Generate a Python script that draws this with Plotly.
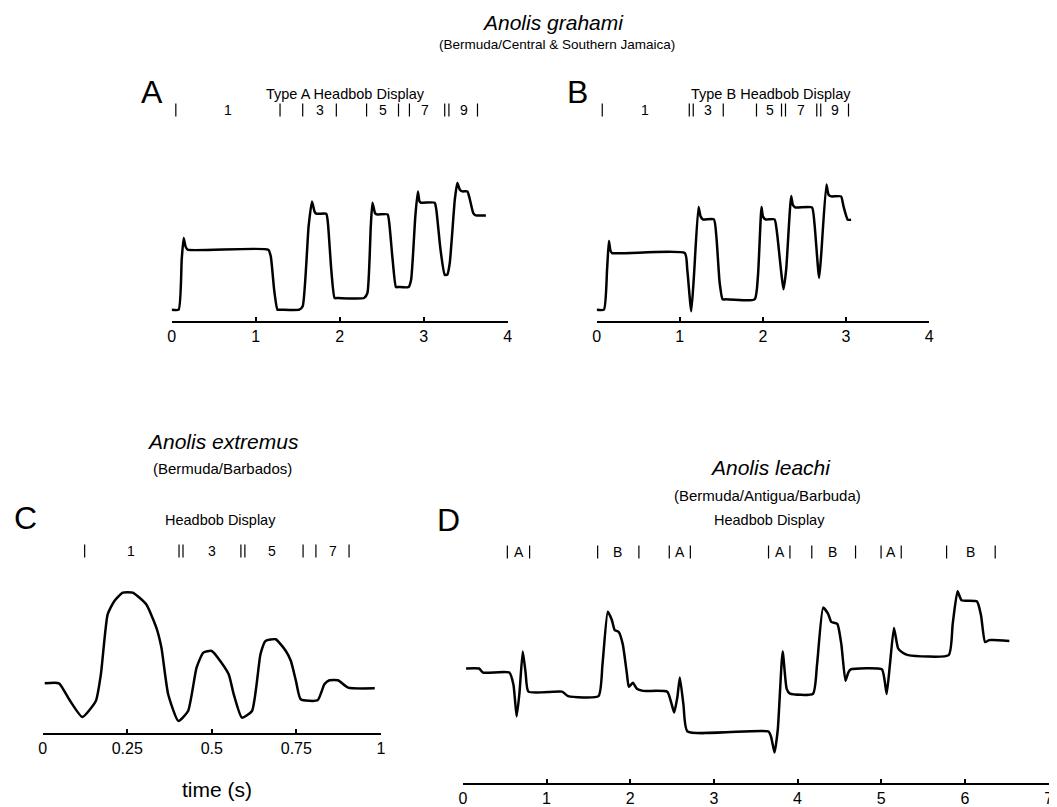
import plotly.graph_objects as go

W, H = 1057, 807

# ---------------- data ----------------
# Panel A: Anolis grahami, Type A headbob (time s, head position arbitrary units)
a_t = [0.0, 0.083, 0.12, 0.143, 0.165, 0.19, 1.15, 1.18, 1.22, 1.26, 1.30, 1.52, 1.56, 1.63, 1.67, 1.70, 1.72,
       1.84, 1.86, 1.90, 1.94, 1.98, 2.29, 2.33, 2.37, 2.39, 2.42, 2.44, 2.57, 2.59, 2.63, 2.67, 2.70, 2.82, 2.85,
       2.90, 2.93, 2.95, 2.97, 3.13, 3.15, 3.20, 3.25, 3.28, 3.31, 3.37, 3.40, 3.43, 3.46, 3.52, 3.55, 3.59, 3.62,
       3.74]
a_y = [0.0, 0.0, 15.0, 21.5, 19.0, 18.0, 18.0, 16.0, 6.0, 0.0, 0.0, 0.0, 1.0, 25.0, 32.5, 29.5, 28.8,
       28.8, 26.0, 12.0, 3.5, 3.5, 3.5, 5.0, 25.0, 32.1, 29.0, 28.6, 28.6, 26.0, 15.0, 6.8, 6.8, 6.8, 9.0,
       28.0, 35.5, 32.5, 32.1, 32.1, 30.0, 18.0, 10.5, 10.5, 14.0, 33.0, 38.0, 36.0, 35.5, 35.5, 33.0, 29.0, 28.3,
       28.3]

# Panel B: Anolis grahami, Type B headbob
b_t = [0.0, 0.087, 0.125, 0.147, 0.165, 0.186, 1.06, 1.09, 1.138, 1.17, 1.225, 1.25, 1.277, 1.41, 1.44, 1.48,
       1.515, 1.55, 1.90, 1.94, 1.983, 2.00, 2.03, 2.14, 2.17, 2.248, 2.28, 2.34, 2.36, 2.387, 2.59, 2.62, 2.676,
       2.70, 2.764, 2.79, 2.823, 2.94, 2.97, 3.021, 3.061]
b_y = [0.0, 0.0, 12.0, 20.6, 17.8, 17.0, 17.0, 12.0, -0.5, 10.0, 30.8, 28.0, 27.1, 27.1, 22.0, 8.0,
       3.1, 3.1, 3.1, 10.0, 30.8, 28.0, 27.1, 27.1, 23.0, 6.1, 12.0, 34.1, 31.5, 30.7, 30.7, 26.0, 9.5,
       16.0, 37.6, 34.5, 34.0, 34.0, 31.0, 27.0, 27.0]

# Panel C: Anolis extremus headbob
c_t = [0.006, 0.048, 0.078, 0.117, 0.157, 0.172, 0.192, 0.212, 0.237, 0.266, 0.306, 0.336, 0.351, 0.371, 0.401,
       0.430, 0.455, 0.475, 0.5, 0.525, 0.55, 0.565, 0.589, 0.619, 0.644, 0.659, 0.689, 0.719, 0.734, 0.749,
       0.763, 0.813, 0.833, 0.848, 0.873, 0.903, 0.982]
c_y = [12.3, 12.3, 7.5, 2.2, 7.0, 15.0, 33.0, 37.0, 39.5, 39.5, 36.0, 29.0, 23.0, 9.0, 1.0,
       4.0, 17.0, 21.5, 22.0, 19.0, 15.0, 9.0, 2.0, 4.0, 21.0, 25.0, 25.5, 22.0, 19.0, 13.0,
       7.5, 7.2, 12.0, 13.2, 13.2, 11.0, 10.8]

# Panel D: Anolis leachi headbob
d_t = [0.039, 0.194, 0.242, 0.556, 0.605, 0.643, 0.677, 0.716, 0.75, 0.784, 1.185, 1.258, 1.621, 1.669, 1.732,
       1.78, 1.814, 1.863, 1.911, 1.959, 1.984, 2.032, 2.08, 2.153, 2.443, 2.492, 2.525, 2.564, 2.593, 2.637,
       2.685, 3.653, 3.686, 3.725, 3.764, 3.822, 3.87, 3.909, 4.185, 4.233, 4.306, 4.364, 4.402, 4.475, 4.523,
       4.572, 4.606, 4.635, 5.007, 5.041, 5.065, 5.104, 5.152, 5.201, 5.249, 5.322, 5.806, 5.854, 5.912, 5.96,
       6.144, 6.193, 6.241, 6.289, 6.338, 6.531]
d_y = [21.0, 21.0, 20.0, 20.0, 17.0, 9.2, 15.0, 25.2, 20.0, 15.3, 15.3, 14.2, 14.2, 22.0, 35.0,
       33.0, 30.5, 30.0, 27.0, 20.0, 16.5, 17.5, 16.0, 15.5, 15.3, 12.5, 10.2, 14.0, 18.8, 12.0,
       5.5, 5.5, 4.0, 0.3, 6.0, 25.2, 16.0, 14.8, 14.8, 22.0, 36.0, 34.5, 32.5, 32.0, 27.0,
       18.0, 20.0, 20.8, 20.8, 18.0, 14.7, 22.0, 31.0, 26.0, 25.0, 24.3, 24.3, 32.0, 40.0, 37.8,
       37.5, 34.0, 27.5, 28.0, 28.0, 27.8]

# Segment marker rows above each trace (time position, symbol)
a_mark_t = [0.05, 0.67, 1.29, 1.56, 1.76, 1.96, 2.32, 2.52, 2.70, 2.83, 3.02, 3.25, 3.30, 3.48, 3.64]
a_mark_s = ["|", "1", "|", "|", "3", "|", "|", "5", "|", "|", "7", "|", "|", "9", "|"]
b_mark_t = [0.067, 0.583, 1.138, 1.336, 1.523, 1.923, 2.09, 2.248, 2.458, 2.672, 2.87, 3.03]
b_mark_s = ["|", "1", "||", "3", "|", "|", "5", "||", "7", "||", "9", "|"]
c_mark_t = [0.124, 0.261, 0.409, 0.5, 0.592, 0.677, 0.77, 0.808, 0.858, 0.906]
c_mark_s = ["|", "1", "||", "3", "||", "5", "|", "|", "7", "|"]
d_mark_t = [0.532, 0.668, 0.798, 1.611, 1.853, 2.104, 2.467, 2.598, 2.719, 3.653, 3.788, 3.909, 4.17, 4.417,
            4.693, 4.998, 5.118, 5.239, 5.781, 6.072, 6.362]
d_mark_s = ["|", "A", "|", "|", "B", "|", "|", "A", "|", "|", "A", "|", "|", "B", "|", "|", "A", "|", "|", "B", "|"]

a_ticks = [0, 1, 2, 3, 4]
c_ticks = [0, 0.25, 0.5, 0.75, 1]
c_tick_text = ["0", "0.25", "0.5", "0.75", "1"]
d_ticks = [0, 1, 2, 3, 4, 5, 6, 7]

# ---------------- figure ----------------
FONT = "Liberation Sans, Arial, sans-serif"
fig = go.Figure()

def py(px):
    """pixel row (from top) -> paper fraction"""
    return 1 - px / H

panels = [
    # axis suffix, t, y, xrange, ticks, ticktext, xdomain px, ydomain px (top,bottom), yrange
    ("", a_t, a_y, [0, 4], a_ticks, None, (161, 500), (168.4, 313), [-3.4, 40]),
    ("2", b_t, b_y, [0, 4], a_ticks, None, (589.7, 925), (168.4, 313), [-3.4, 40]),
    ("3", c_t, c_y, [0, 1], c_ticks, c_tick_text, (31, 372), (579.6, 725), [-2.61, 41]),
    ("4", d_t, d_y, [0, 7], d_ticks, None, (454.7, 1045.5), (579.3, 775), [-7.19, 41]),
]

layout_axes = {}
for name, t, y, xr, tv, tt, xd, yd, yr in panels:
    fig.add_trace(go.Scatter(x=t, y=y, mode="lines", xaxis="x" + name, yaxis="y" + name,
                             line=dict(color="black", width=2.5, shape="spline", smoothing=0.5),
                             showlegend=False, hoverinfo="skip"))
    layout_axes["xaxis" + name] = dict(
        domain=[xd[0] / W, xd[1] / W], range=xr, anchor="y" + name,
        showline=True, linecolor="black", linewidth=2, showgrid=False, zeroline=False,
        ticks="inside", ticklen=4, tickwidth=2, tickcolor="black",
        tickvals=tv, ticktext=tt if tt else [str(v) for v in tv],
        tickfont=dict(family=FONT, size=16, color="black"), fixedrange=True)
    layout_axes["yaxis" + name] = dict(
        domain=[py(yd[1]), py(yd[0])], range=yr, anchor="x" + name,
        visible=False, showgrid=False, zeroline=False, fixedrange=True)

fig.update_layout(**layout_axes)

ann = []
def text(x, y, s, size, italic=False, xref="paper", xanchor="center"):
    ann.append(dict(x=x, y=y, xref=xref, yref="paper", text=s, showarrow=False,
                    xanchor=xanchor, yanchor="middle",
                    font=dict(family=FONT, size=size, color="black",
                              style="italic" if italic else "normal")))

# headers
text(546 / W, py(14), "Anolis grahami", 21, italic=True)
text(550 / W, py(37), "(Bermuda/Central &amp; Southern Jamaica)", 13.5)
text(213 / W, py(433), "Anolis extremus", 21, italic=True)
text(212 / W, py(460), "(Bermuda/Barbados)", 15)
text(765 / W, py(459), "Anolis leachi", 21, italic=True)
text(762 / W, py(487), "(Bermuda/Antigua/Barbuda)", 15)

# panel letters
text(141 / W, py(84), "A", 32)
text(570 / W, py(84), "B", 32)
text(14 / W, py(510), "C", 32)
text(440 / W, py(512), "D", 32)

# panel titles
text(336 / W, py(86), "Type A Headbob Display", 14.5)
text(766 / W, py(86), "Type B Headbob Display", 14.5)
text(210 / W, py(512), "Headbob Display", 14.5)
text(764 / W, py(512), "Headbob Display", 14.5)

# x-axis title for C
text(207 / W, py(781), "time (s)", 21)

# marker rows: numbers/letters as text, separator bars as thin line shapes
shapes = []
rows = [("x", a_mark_t, a_mark_s, 102, 4 / (500 - 161)),
        ("x2", b_mark_t, b_mark_s, 102, 4 / (925 - 589.7)),
        ("x3", c_mark_t, c_mark_s, 543, 1 / (372 - 31)),
        ("x4", d_mark_t, d_mark_s, 544, 7 / (1045.5 - 454.7))]
for xa, ts, ss, ypx, unit_per_px in rows:
    for tv, sv in zip(ts, ss):
        if sv == "|":
            offs = [0.0]
        elif sv == "||":
            offs = [-2.0, 2.0]
        else:
            text(tv, py(ypx), sv, 14, xref=xa)
            continue
        for o in offs:
            xv = tv + o * unit_per_px
            shapes.append(dict(type="line", xref=xa, yref="paper",
                               x0=xv, x1=xv, y0=py(ypx + 6.5), y1=py(ypx - 6.5),
                               line=dict(color="black", width=1.2)))

fig.update_layout(annotations=ann, shapes=shapes, width=W, height=H,
                  margin=dict(l=0, r=0, t=0, b=0),
                  paper_bgcolor="white", plot_bgcolor="white")

fig.write_html("out.html")
